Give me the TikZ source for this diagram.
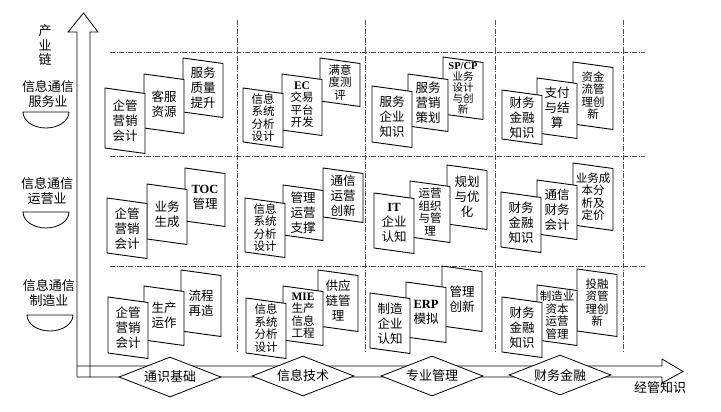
\documentclass[tikz,border=0pt]{standalone}
\usepackage{fontspec}
\setmainfont{Noto Sans CJK SC}
\newfontfamily\latn{Liberation Serif}
\usetikzlibrary{shapes.geometric}
\newcommand{\acr}[1]{{\latn\bfseries #1}}
% card: [style] name, left x, top y, height, text
\newcommand{\card}[6][]{%
  \filldraw[cardedge] (#3,#4) -- ++(40,5.5) -- ++(0,#5) -- ++(-40,-5.5) -- cycle;
  \node[cardtext,#1] (#2) at (#3+20,#4+2.75+#5/2) {#6};
}

\begin{document}
\begin{tikzpicture}[x=1pt, y=-1pt,
  cardedge/.style={draw, fill=white, line width=0.9pt},
  cardtext/.style={align=center, inner sep=0pt, font=\fontsize{12.5}{15}\selectfont},
  tight/.style={font=\fontsize{11.5}{12.5}\selectfont},
  gridline/.style={line width=0.6pt, black!70, dash pattern=on 5pt off 1.5pt on 1pt off 1.5pt},
  axis/.style={line width=0.8pt},
  sector/.style={align=center, inner sep=0pt, font=\fontsize{13}{14.5}\selectfont},
  field/.style={diamond, draw, fill=white, line width=0.8pt, aspect=2.6, inner sep=1pt,
    minimum width=102pt, minimum height=40pt, font=\fontsize{13}{14}\selectfont}]
  \useasboundingbox (0,0) rectangle (721,412);

  % Grid
  \draw[gridline] (110,52) -- (645,52);
  \draw[gridline] (110,156) -- (645,156);
  \draw[gridline] (110,266) -- (645,266);
  \draw[gridline] (237,20) -- (237,352);
  \draw[gridline] (365,20) -- (365,352);
  \draw[gridline] (495,20) -- (495,352);
  \draw[gridline] (623,20) -- (623,352);

  % Axes
  \draw[axis] (77,377) -- (77,32) -- (68,32) -- (83.5,13) -- (98,32) -- (90,32) -- (90,377);
  \draw[axis] (77,366) -- (662,366) -- (662,359) -- (683,371.5) -- (662,383) -- (662,377) -- (77,377);
  \node[sector] (chain) at (45,45) {产\\业\\链};
  \node[sector] (know) at (660,388) {经管知识};

  % Industries
  \node[sector] (svc) at (48,94) {信息通信\\服务业};
  \draw[axis] (69,112) -- (23,112) arc[start angle=180, end angle=0, x radius=23, y radius=16];
  \node[sector] (ops) at (47,191) {信息通信\\运营业};
  \draw[axis] (69,212) -- (23,212) arc[start angle=180, end angle=0, x radius=23, y radius=16];
  \node[sector] (mfg) at (49,293) {信息通信\\制造业};
  \draw[axis] (73,315) -- (27,315) arc[start angle=180, end angle=0, x radius=23, y radius=16];

  % Service row
  \card{s1c}{183}{58}{54}{服务\\质量\\提升}
  \card{s1b}{144}{74}{54}{客服\\资源}
  \card{s1a}{105}{88}{60}{企管\\营销\\会计}
  \card[tight]{s2c}{320}{58}{43}{满意\\度测\\评}
  \card[tight]{s2b}{282}{74}{56}{\acr{EC}\\交易\\平台\\开发}
  \card[tight]{s2a}{243}{88}{54}{信息\\系统\\分析\\设计}
  \card[tight, font=\fontsize{10.5}{11}\selectfont]{s3c}{443}{57}{57}{\acr{SP/CP}\\业务\\设计\\与创\\新}
  \card{s3b}{408}{74}{52}{服务\\营销\\策划}
  \card{s3a}{372}{86}{56}{服务\\企业\\知识}
  \card[tight]{s4c}{573}{62}{62}{资金\\流管\\理创\\新}
  \card{s4b}{537}{78}{55}{支付\\与结\\算}
  \card{s4a}{502}{90}{49}{财务\\金融\\知识}

  % Operation row
  \card{o1c}{185}{168}{53}{\acr{TOC}\\管理}
  \card{o1b}{147}{184}{55}{业务\\生成}
  \card{o1a}{107}{198}{55}{企管\\营销\\会计}
  \card{o2c}{323}{168}{49}{通信\\运营\\创新}
  \card{o2b}{283}{185}{50}{管理\\运营\\支撑}
  \card[tight]{o2a}{245}{198}{54}{信息\\系统\\分析\\设计}
  \card{o3c}{447}{165}{59}{规划\\与优\\化}
  \card[tight]{o3b}{410}{181}{56}{运营\\组织\\与管\\理}
  \card{o3a}{374}{193}{55}{\acr{IT}\\企业\\认知}
  \card[tight]{o4c}{573}{163}{62}{业务成\\本分\\析及\\定价}
  \card{o4b}{537}{180}{54}{通信\\财务\\会计}
  \card{o4a}{501}{192}{55}{财务\\金融\\知识}

  % Manufacturing row
  \card{m1c}{181}{270}{61}{流程\\再造}
  \card{m1b}{144}{286}{54}{生产\\运作}
  \card{m1a}{108}{297}{56}{企管\\营销\\会计}
  \card{m2c}{318}{270}{56}{供应\\链管\\理}
  \card[tight]{m2b}{283}{286}{54}{\acr{MIE}\\生产\\信息\\工程}
  \card[tight]{m2a}{246}{298}{55}{信息\\系统\\分析\\设计}
  \card{m3c}{442}{266}{60}{管理\\创新}
  \card{m3b}{406}{282}{55}{\acr{ERP}\\模拟}
  \card{m3a}{370}{293}{55}{制造\\企业\\认知}
  \card[tight]{m4c}{577}{269}{62}{投融\\资管\\理创\\新}
  \card[tight]{m4b}{537}{285}{55}{制造业\\资本\\运营\\管理}
  \card{m4a}{502}{297}{55}{财务\\金融\\知识}

  % Knowledge fields
  \node[field] (base) at (170,377) {通识基础};
  \node[field] (tech) at (303,376) {信息技术};
  \node[field] (mgmt) at (432,376) {专业管理};
  \node[field] (fin) at (560,375) {财务金融};
\end{tikzpicture}
\end{document}
